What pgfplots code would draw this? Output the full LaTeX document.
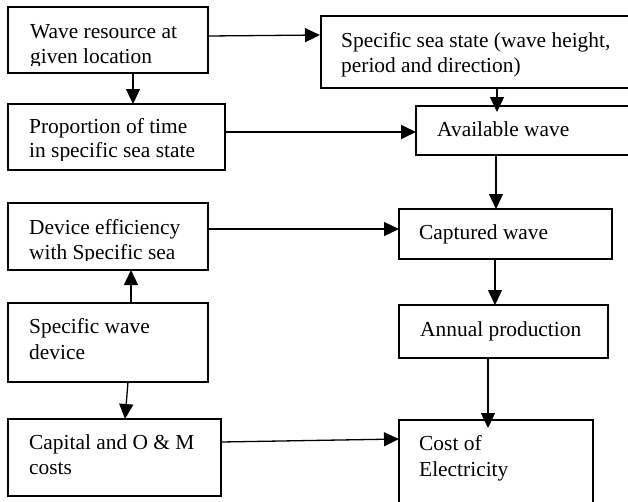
\documentclass[border=0pt]{standalone}
\usepackage{pgfplots}
\pgfplotsset{compat=1.18}
\usepackage{fontspec}
\setmainfont{Liberation Serif}
\usetikzlibrary{arrows.meta}
\begin{document}
\begin{tikzpicture}[
 arr/.style={line width=1.3pt,-{Triangle[length=15pt,width=14pt]}},
 box/.style={line width=1.3pt},
 lbl/.style={anchor=base west,inner sep=0pt,font=\fontsize{21.4}{25}\selectfont}]
\begin{axis}[width=628pt,height=501pt,scale only axis,
  xmin=0,xmax=628,ymin=0,ymax=501,y dir=reverse,hide axis,clip=true]
% boxes
\draw[box] (axis cs:8,7) rectangle (axis cs:208,73);
\draw[box] (axis cs:321,16) rectangle (axis cs:640,88);
\draw[box] (axis cs:8,104) rectangle (axis cs:225,170);
\draw[box] (axis cs:416,106) rectangle (axis cs:640,155);
\draw[box] (axis cs:8,203) rectangle (axis cs:208,270);
\draw[box] (axis cs:399,209) rectangle (axis cs:612,259);
\draw[box] (axis cs:8,303) rectangle (axis cs:208,382);
\draw[box] (axis cs:399,305) rectangle (axis cs:608,358);
\draw[box] (axis cs:8,419) rectangle (axis cs:221,496);
\draw[box] (axis cs:399,420) rectangle (axis cs:593,530);
% texts
\node[lbl] at (axis cs:30,38) {Wave resource at};
\begin{scope}
\clip (axis cs:8,7) rectangle (axis cs:208,65);
\node[lbl] at (axis cs:30,63) {given location};
\end{scope}
\node[lbl] at (axis cs:341,47) {Specific sea state (wave height,};
\node[lbl] at (axis cs:341,72) {period and direction)};
\node[lbl] at (axis cs:29,133) {Proportion of time};
\begin{scope}
\clip (axis cs:8,104) rectangle (axis cs:225,160);
\node[lbl] at (axis cs:29,157) {in specific sea state};
\end{scope}
\node[lbl] at (axis cs:437,136) {Available wave};
\node[lbl] at (axis cs:29,234) {Device efficiency};
\begin{scope}
\clip (axis cs:8,203) rectangle (axis cs:208,260);
\node[lbl] at (axis cs:29,259) {with Specific sea};
\end{scope}
\node[lbl] at (axis cs:419,239) {Captured wave};
\node[lbl] at (axis cs:29,333) {Specific wave};
\node[lbl] at (axis cs:29,359) {device};
\node[lbl] at (axis cs:420,336) {Annual production};
\node[lbl] at (axis cs:29,449) {Capital and O \& M};
\node[lbl] at (axis cs:29,474) {costs};
\node[lbl] at (axis cs:419,450) {Cost of};
\node[lbl] at (axis cs:419,476) {Electricity};
% arrows
\draw[arr] (axis cs:208,36) -- (axis cs:320,35);
\draw[arr] (axis cs:133,73) -- (axis cs:133,104);
\draw[arr] (axis cs:497,88) -- (axis cs:497,112);
\draw[arr] (axis cs:225,132) -- (axis cs:416,132);
\draw[arr] (axis cs:496,155) -- (axis cs:496,209);
\draw[arr] (axis cs:208,229) -- (axis cs:399,229);
\draw[arr] (axis cs:131,303) -- (axis cs:131,270);
\draw[arr] (axis cs:495,259) -- (axis cs:495,305);
\draw[arr] (axis cs:128,382) -- (axis cs:125,419);
\draw[arr] (axis cs:488,358) -- (axis cs:488,428);
\draw[arr] (axis cs:221,442) -- (axis cs:399,439);
\end{axis}
\pgfresetboundingbox
\useasboundingbox (0,0) rectangle (628pt,501pt);
\end{tikzpicture}
\end{document}
